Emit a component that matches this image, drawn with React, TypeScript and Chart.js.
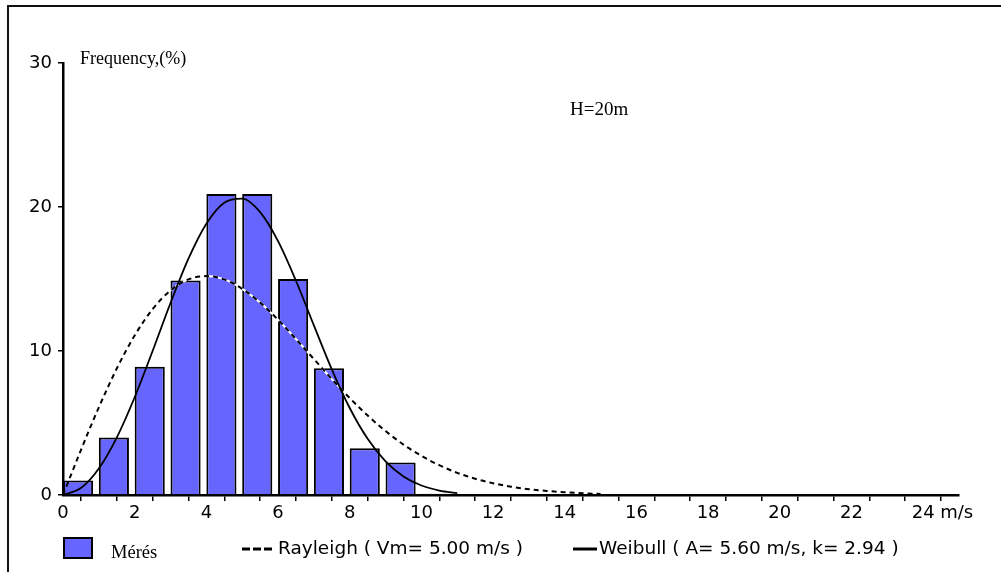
import React, { useEffect, useRef } from "react";
import { Chart, registerables } from "chart.js";

Chart.register(...registerables);

// Measured frequency histogram (bins of 1 m/s)
const binStarts = [0, 1, 2, 3, 4, 5, 6, 7, 8, 9, 10];
const measured = [1.0, 4.0, 8.9, 14.9, 20.9, 20.9, 15.0, 8.8, 3.25, 2.25, 0.08];

// Rayleigh curve (Vm = 5.00 m/s)
const rayleighX = [0, 0.5, 1, 1.5, 2, 2.5, 3, 3.5, 4, 4.5, 5, 5.5, 6, 6.5, 7, 7.5, 8, 8.5, 9, 9.5, 10, 10.5, 11, 11.5, 12, 12.5, 13, 13.5, 14, 14.5, 15];
const rayleighY = [0, 3.12, 6.09, 8.78, 11.08, 12.91, 14.21, 14.97, 15.2, 14.97, 14.32, 13.36, 12.17, 10.83, 9.44, 8.05, 6.73, 5.52, 4.44, 3.5, 2.72, 2.07, 1.54, 1.13, 0.82, 0.58, 0.4, 0.28, 0.19, 0.12, 0.07];

// Weibull curve (A = 5.60 m/s, k = 2.94)
const weibullX = [0, 0.5, 1, 1.5, 2, 2.5, 3, 3.5, 4, 4.5, 5, 5.5, 6, 6.5, 7, 7.5, 8, 8.5, 9, 9.5, 10, 10.5, 11];
const weibullY = [0, 0.48, 1.84, 3.99, 6.79, 10.0, 13.33, 16.41, 18.84, 20.3, 20.58, 19.64, 17.63, 14.88, 11.78, 8.73, 6.04, 3.9, 2.33, 1.29, 0.66, 0.31, 0.13];

const xTickLabels = ["0", "2", "4", "6", "8", "10", "12", "14", "16", "18", "20", "22", "24"];
const yTickLabels = ["0", "10", "20", "30"];

const yTitle = "Frequency,(%)";
const heightNote = "H=20m";
const xUnit = "m/s";
const legendMeasured = "Mérés";
const legendRayleigh = "Rayleigh ( Vm= 5.00 m/s )";
const legendWeibull = "Weibull ( A= 5.60 m/s, k= 2.94 )";

const BAR_COLOR = "#6666ff";

export default function App() {
  const ref = useRef<HTMLCanvasElement>(null);

  useEffect(() => {
    const canvas = ref.current;
    if (!canvas) return;
    const barHalf = 0.42;

    const overlay = {
      id: "overlay",
      afterDraw(chart: any) {
        const ctx = chart.ctx as CanvasRenderingContext2D;
        ctx.save();
        // frame
        ctx.strokeStyle = "#111";
        ctx.lineWidth = 2;
        ctx.beginPath();
        ctx.moveTo(8, 572);
        ctx.lineTo(8, 6);
        ctx.lineTo(1001, 6);
        ctx.stroke();

        ctx.fillStyle = "#000";
        ctx.textBaseline = "middle";
        ctx.textAlign = "left";
        ctx.font = '18px "Liberation Serif", "Times New Roman", serif';
        ctx.fillText(yTitle, 80, 59);
        ctx.font = '19px "Liberation Serif", "Times New Roman", serif';
        ctx.fillText(heightNote, 570, 110);

        // unit after last x label
        const x24 = chart.scales.x.getPixelForValue(24);
        ctx.font = '18px "DejaVu Sans", sans-serif';
        ctx.fillText(xUnit, x24 + 17, 513);

        // legend
        const ly = 549;
        ctx.fillStyle = BAR_COLOR;
        ctx.fillRect(64, 538, 28, 20);
        ctx.strokeStyle = "#000";
        ctx.lineWidth = 2;
        ctx.strokeRect(64, 538, 28, 20);
        ctx.fillStyle = "#000";
        ctx.font = '18.5px "Liberation Serif", "Times New Roman", serif';
        ctx.fillText(legendMeasured, 111, 553);

        ctx.lineWidth = 3;
        ctx.setLineDash([8, 3]);
        ctx.beginPath();
        ctx.moveTo(242, ly);
        ctx.lineTo(273, ly);
        ctx.stroke();
        ctx.setLineDash([]);
        ctx.font = '18.5px "DejaVu Sans", sans-serif';
        ctx.fillText(legendRayleigh, 278, ly);

        ctx.lineWidth = 3;
        ctx.beginPath();
        ctx.moveTo(573, ly);
        ctx.lineTo(597, ly);
        ctx.stroke();
        ctx.fillText(legendWeibull, 599, ly);
        ctx.restore();
      },
    };

    const rayleighPts = rayleighX.map((x, i) => ({ x, y: rayleighY[i] }));
    const chart = new Chart(canvas, {
      type: "bar",
      data: {
        datasets: [
          {
            type: "line",
            label: "Weibull",
            data: weibullX.map((x, i) => ({ x, y: weibullY[i] })),
            borderColor: "#000",
            borderWidth: 1.8,
            pointRadius: 0,
            fill: false,
            cubicInterpolationMode: "monotone",
            order: 1,
          } as any,
          {
            type: "line",
            label: "Rayleigh",
            data: rayleighPts,
            borderColor: "#000",
            borderWidth: 2,
            borderDash: [5, 4],
            pointRadius: 0,
            fill: false,
            cubicInterpolationMode: "monotone",
            order: 2,
          } as any,
          {
            type: "line",
            label: "Rayleigh under",
            data: rayleighPts.filter((p) => p.x >= 0.5 && p.x <= 10),
            borderColor: "#fff",
            borderWidth: 2,
            pointRadius: 0,
            fill: false,
            cubicInterpolationMode: "monotone",
            order: 3,
          } as any,
          {
            type: "bar",
            label: legendMeasured,
            data: binStarts.map((b, i) => ({ x: b + barHalf, y: measured[i] })),
            backgroundColor: BAR_COLOR,
            borderColor: "#000",
            borderWidth: 2,
            barPercentage: 0.84,
            categoryPercentage: 1,
            order: 4,
          } as any,
        ],
      },
      options: {
        responsive: false,
        animation: false,
        devicePixelRatio: 1,
        layout: { padding: { left: 0, right: 42, top: 63, bottom: 0 } },
        plugins: {
          legend: { display: false },
          tooltip: { enabled: false },
        },
        scales: {
          x: {
            type: "linear",
            min: 0,
            max: 25,
            offset: false,
            border: { display: true, color: "#000", width: 2.5 },
            grid: { display: true, drawOnChartArea: false, drawTicks: true, tickLength: 6, color: "#000", lineWidth: 1.5 },
            ticks: {
              stepSize: 1,
              autoSkip: false,
              maxRotation: 0,
              padding: 2,
              color: "#000",
              font: { family: '"DejaVu Sans", sans-serif', size: 18 },
              callback: (v: any) => {
                const s = String(v);
                return xTickLabels.includes(s) ? s : "";
              },
            },
            afterFit: (s: any) => {
              s.height = 77;
            },
          },
          y: {
            type: "linear",
            min: 0,
            max: 30,
            border: { display: true, color: "#000", width: 2.5 },
            grid: { display: true, drawOnChartArea: false, drawTicks: true, tickLength: 5, color: "#000", lineWidth: 1.5 },
            ticks: {
              stepSize: 10,
              padding: 6,
              color: "#000",
              font: { family: '"DejaVu Sans", sans-serif', size: 18 },
              callback: (v: any) => {
                const s = String(v);
                return yTickLabels.includes(s) ? s : "";
              },
            },
            afterFit: (s: any) => {
              s.width = 63;
            },
          },
        },
      } as any,
      plugins: [overlay],
    });
    return () => chart.destroy();
  }, []);

  return (
    <div style={{ position: "absolute", left: 0, top: 0, width: 1001, height: 572, background: "#fff" }}>
      <canvas ref={ref} width={1001} height={572} style={{ display: "block" }} />
    </div>
  );
}
